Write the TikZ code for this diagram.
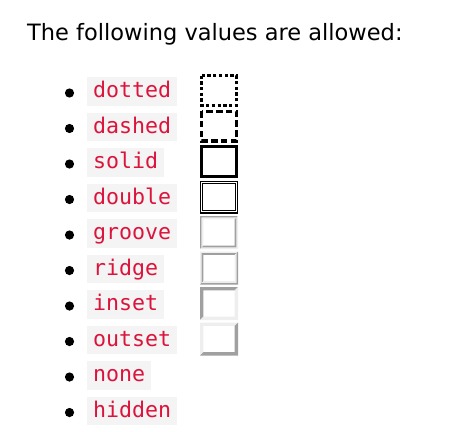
\documentclass[tikz,border=0pt]{standalone}
\usepackage{fontspec}
\setmainfont{DejaVu Sans}
\setmonofont{DejaVu Sans Mono}
\definecolor{codered}{HTML}{DC143C}
\definecolor{codebg}{HTML}{F4F4F4}
\definecolor{bdark}{HTML}{A0A0A0}
\definecolor{blight}{HTML}{EEEEEE}
\tikzset{
  codelabel/.style={fill=codebg, text=codered, anchor=west, inner xsep=6pt,
    inner ysep=3.25pt, text height=17pt, text depth=5pt,
    font=\ttfamily\fontsize{21.6}{26}\selectfont},
  borderbox/.style={line width=3.3pt, black}
}
% bevelled frame: left, top, right, bottom, width, top-left colour, bottom-right colour
\newcommand{\bevelframe}[7]{%
  \fill[#6] (#1,#4) -- (#1,#2) -- (#3,#2) -- ({#3-#5},{#2-#5}) -- ({#1+#5},{#2-#5}) -- ({#1+#5},{#4+#5}) -- cycle;
  \fill[#7] (#3,#2) -- (#3,#4) -- (#1,#4) -- ({#1+#5},{#4+#5}) -- ({#3-#5},{#4+#5}) -- ({#3-#5},{#2-#5}) -- cycle;
}
\begin{document}
\begin{tikzpicture}[x=1pt,y=1pt]
\useasboundingbox (0,0) rectangle (449,-431);
\node [anchor=base west, inner sep=0pt, font=\fontsize{22.5}{27}\selectfont] (title) at (27,-40) {The following values are allowed:};
% list items
\fill (69.5,-93) circle [radius=4.6pt];
\node [codelabel] (dotted) at (87,-91.5) {dotted};
\fill (69.5,-128.5) circle [radius=4.6pt];
\node [codelabel] (dashed) at (87,-127) {dashed};
\fill (69.5,-164) circle [radius=4.6pt];
\node [codelabel] (solid) at (87,-162.5) {solid};
\fill (69.5,-199.5) circle [radius=4.6pt];
\node [codelabel] (double) at (87,-198) {double};
\fill (69.5,-235) circle [radius=4.6pt];
\node [codelabel] (groove) at (87,-233.5) {groove};
\fill (69.5,-270.5) circle [radius=4.6pt];
\node [codelabel] (ridge) at (87,-269) {ridge};
\fill (69.5,-306) circle [radius=4.6pt];
\node [codelabel] (inset) at (87,-304.5) {inset};
\fill (69.5,-341.5) circle [radius=4.6pt];
\node [codelabel] (outset) at (87,-340) {outset};
\fill (69.5,-377) circle [radius=4.6pt];
\node [codelabel] (none) at (87,-375.5) {none};
\fill (69.5,-412.5) circle [radius=4.6pt];
\node [codelabel] (hidden) at (87,-411) {hidden};
% sample boxes
\draw [borderbox, dash pattern=on 3.3pt off 2.4pt] (201.65,-75.65) rectangle (236.35,-105.35);
\draw [borderbox, dash pattern=on 6.5pt off 3.3pt] (201.65,-111.15) rectangle (236.35,-140.85);
\draw [borderbox] (201.65,-146.65) rectangle (236.35,-176.35);
\draw [black, line width=1.1pt] (200.55,-181.05) rectangle (237.45,-212.95);
\draw [black, line width=1.1pt] (202.75,-183.25) rectangle (235.25,-210.75);
\bevelframe{200}{-216}{238}{-249}{1.65}{bdark}{blight}
\bevelframe{201.65}{-217.65}{236.35}{-247.35}{1.65}{blight}{bdark}
\bevelframe{200}{-251.5}{238}{-284.5}{1.65}{blight}{bdark}
\bevelframe{201.65}{-253.15}{236.35}{-282.85}{1.65}{bdark}{blight}
\bevelframe{200}{-287}{238}{-320}{3.3}{bdark}{blight}
\bevelframe{200}{-322.5}{238}{-355.5}{3.3}{blight}{bdark}
\end{tikzpicture}
\end{document}
